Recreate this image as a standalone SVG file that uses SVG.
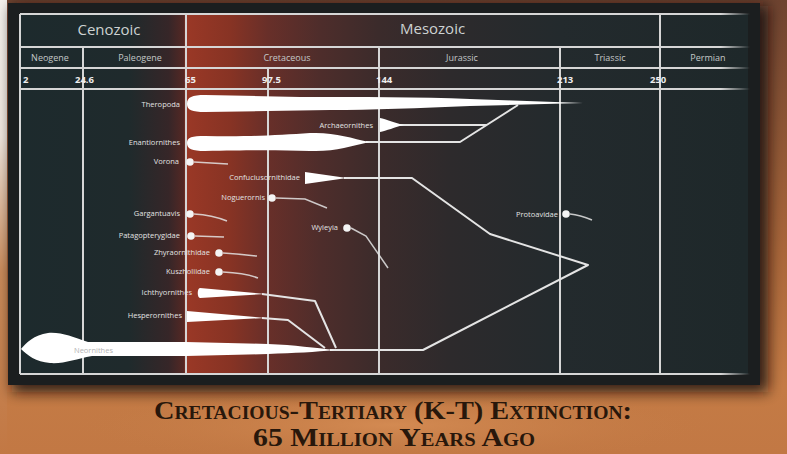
<svg xmlns="http://www.w3.org/2000/svg" width="787" height="454" viewBox="0 0 787 454">
<defs>
  <linearGradient id="orange" x1="0" y1="0" x2="0" y2="1">
    <stop offset="0" stop-color="#6e4330"/>
    <stop offset="0.55" stop-color="#a8663a"/>
    <stop offset="0.85" stop-color="#c47b45"/>
    <stop offset="1" stop-color="#c27844"/>
  </linearGradient>
  <linearGradient id="leftstrip" x1="0" y1="0" x2="0" y2="1">
    <stop offset="0" stop-color="#f4f0ec"/>
    <stop offset="0.3" stop-color="#f0e6de"/>
    <stop offset="0.6" stop-color="#c98a5a"/>
    <stop offset="1" stop-color="#c27844"/>
  </linearGradient>
  <radialGradient id="glow" cx="0.5" cy="0.5" r="0.5">
    <stop offset="0" stop-color="#d38a52"/>
    <stop offset="1" stop-color="#c27a45" stop-opacity="0"/>
  </radialGradient>
  <linearGradient id="panel" gradientUnits="userSpaceOnUse" x1="20" y1="0" x2="745" y2="0">
    <stop offset="0" stop-color="#1d2a2d"/>
    <stop offset="0.15" stop-color="#1f2a2c"/>
    <stop offset="0.205" stop-color="#362628"/>
    <stop offset="0.226" stop-color="#542824"/>
    <stop offset="0.229" stop-color="#9a3826"/>
    <stop offset="0.29" stop-color="#873324"/>
    <stop offset="0.342" stop-color="#682f29"/>
    <stop offset="0.414" stop-color="#4e2d2b"/>
    <stop offset="0.495" stop-color="#3b2b2b"/>
    <stop offset="0.593" stop-color="#2d2a2c"/>
    <stop offset="0.745" stop-color="#232a2d"/>
    <stop offset="1" stop-color="#1e282a"/>
  </linearGradient>
  <linearGradient id="hline" gradientUnits="userSpaceOnUse" x1="20" y1="0" x2="750" y2="0">
    <stop offset="0" stop-color="#d6d6d6"/>
    <stop offset="0.96" stop-color="#d6d6d6"/>
    <stop offset="1" stop-color="#d6d6d6" stop-opacity="0"/>
  </linearGradient>
  <filter id="shadow" x="-10%" y="-10%" width="120%" height="120%">
    <feGaussianBlur stdDeviation="7"/>
  </filter>
  <filter id="soft" x="-5%" y="-20%" width="110%" height="140%">
    <feGaussianBlur stdDeviation="0.5"/>
  </filter>
  <style>
    .grid{stroke:#d6d6d6;stroke-width:2;fill:none}
    .hgrid{stroke:url(#hline);stroke-width:2;fill:none}
    .hd{font-family:"Open Sans","Liberation Sans",sans-serif;font-size:15px;fill:#cdd2d2}
    .pd{font-family:"Open Sans","Liberation Sans",sans-serif;font-size:9px;fill:#c4c8c8;text-anchor:middle}
    .num{font-family:"Open Sans","Liberation Sans",sans-serif;font-size:9.5px;font-weight:bold;fill:#eeeeee}
    .tx{font-family:"Open Sans","Liberation Sans",sans-serif;font-size:7.5px;fill:#e2e2e2;text-anchor:end}
    .shape{fill:#ffffff;filter:url(#soft)}
    .dot{fill:#f4f4f4}
    .link{stroke:#e4e4e4;stroke-width:2;fill:none;stroke-linejoin:round}
    .tail{stroke:#e4e4e4;stroke-width:1.5;fill:none;opacity:0.85}
    .title{font-family:"Liberation Serif",serif;font-weight:bold;font-variant:small-caps;fill:#28170b;font-size:26px;text-anchor:middle}
  </style>
</defs>

<!-- background -->
<rect x="0" y="0" width="787" height="454" fill="url(#orange)"/>
<rect x="0" y="0" width="7" height="454" fill="url(#leftstrip)"/>
<ellipse cx="393" cy="425" rx="330" ry="40" fill="url(#glow)"/>
<rect x="12" y="6" width="756" height="386" fill="#120c08" opacity="0.85" filter="url(#shadow)"/>
<rect x="8" y="3" width="752" height="382" fill="#1b1e1f"/>
<rect x="20" y="14" width="728" height="360" fill="url(#panel)"/>

<!-- grid -->
<g id="grid">
  <line class="hgrid" x1="20" y1="14" x2="750" y2="14"/>
  <line class="hgrid" x1="20" y1="47" x2="750" y2="47"/>
  <line class="hgrid" x1="20" y1="68" x2="750" y2="68"/>
  <line class="hgrid" x1="20" y1="89" x2="750" y2="89"/>
  <line class="hgrid" x1="20" y1="374" x2="750" y2="374"/>
  <line class="grid" x1="20" y1="14" x2="20" y2="374"/>
  <line class="grid" x1="83" y1="47" x2="83" y2="374"/>
  <line class="grid" x1="186" y1="14" x2="186" y2="374"/>
  <line class="grid" x1="268" y1="68" x2="268" y2="374"/>
  <line class="grid" x1="379" y1="47" x2="379" y2="374"/>
  <line class="grid" x1="560" y1="47" x2="560" y2="374"/>
  <line class="grid" x1="660" y1="14" x2="660" y2="374"/>
</g>

<!-- header labels -->
<g id="header">
  <text class="hd" x="109" y="35" text-anchor="middle">Cenozoic</text>
  <text class="hd" x="400" y="34">Mesozoic</text>
  <text class="pd" x="50" y="61">Neogene</text>
  <text class="pd" x="140" y="61">Paleogene</text>
  <text class="pd" x="287" y="61">Cretaceous</text>
  <text class="pd" x="462" y="61">Jurassic</text>
  <text class="pd" x="610" y="61">Triassic</text>
  <text class="pd" x="708" y="61">Permian</text>
  <text class="num" x="23" y="83">2</text>
  <text class="num" x="75" y="83">24.6</text>
  <text class="num" x="185" y="83">65</text>
  <text class="num" x="262" y="83">97.5</text>
  <text class="num" x="376" y="83">144</text>
  <text class="num" x="557" y="83">213</text>
  <text class="num" x="650" y="83">250</text>
</g>

<!-- connectors -->
<g id="connectors">
  <path class="link" d="M366,142 L460,142 L518,105"/>
  <path class="link" d="M400,125 L487,125"/>
  <path class="link" d="M344,178 L412,178 L490,234 L588,265 L423,350 L330,350"/>
  <path class="link" d="M262,294 L315,301 L336,348"/>
  <path class="link" d="M262,318 L288,320 L325,348"/>
  <path class="tail" d="M194,162 L228,164"/>
  <path class="tail" d="M194,214 Q212,215 227,221"/>
  <path class="tail" d="M195,236 L224,237"/>
  <path class="tail" d="M223,253 Q240,254 257,256"/>
  <path class="tail" d="M223,272 Q245,273 258,278"/>
  <path class="tail" d="M276,198 L305,199 L327,208"/>
  <path class="tail" d="M351,228 L366,236 L388,268"/>
  <path class="tail" d="M570,214 Q580,215 592,220"/>
</g>

<!-- nodes -->
<g id="theropoda">
  <path class="shape" d="M187,104 C187,97 192,95 205,95 L300,97 C360,97 420,97 470,99 L583,103 L470,106 C420,108 370,110 330,110 L205,112 C192,112 187,110 187,104 Z"/>
  <text class="tx" x="180" y="107">Theropoda</text>
</g>
<g id="archaeornithes">
  <path class="shape" d="M380,118 C386,119 395,123 404,125 C395,127 386,131 380,132 Z"/>
  <text class="tx" x="373" y="128">Archaeornithes</text>
</g>
<g id="enantiornithes">
  <path class="shape" d="M187,143 C187,137 192,136 205,136 C250,137 280,135 310,133 C335,132 350,138 370,142 C350,146 335,152 310,151 C280,150 250,150 205,151 C192,151 187,149 187,143 Z"/>
  <text class="tx" x="180" y="145">Enantiornithes</text>
</g>
<g id="vorona">
  <circle class="dot" cx="190" cy="162" r="3.8"/>
  <text class="tx" x="179" y="164">Vorona</text>
</g>
<g id="confuciusornithidae">
  <path class="shape" d="M305,172 L305,184 L347,178 Z"/>
  <text class="tx" x="300" y="180">Confuciusornithidae</text>
</g>
<g id="noguerornis">
  <circle class="dot" cx="272" cy="198" r="3.8"/>
  <text class="tx" x="265" y="200">Noguerornis</text>
</g>
<g id="gargantuavis">
  <circle class="dot" cx="190" cy="214" r="3.8"/>
  <text class="tx" x="180" y="216">Gargantuavis</text>
</g>
<g id="wyleyia">
  <circle class="dot" cx="347" cy="228" r="3.8"/>
  <text class="tx" x="338" y="230">Wyleyia</text>
</g>
<g id="protoavidae">
  <circle class="dot" cx="566" cy="214" r="3.8"/>
  <text class="tx" x="558" y="217">Protoavidae</text>
</g>
<g id="patagopterygidae">
  <circle class="dot" cx="191" cy="236" r="3.8"/>
  <text class="tx" x="180" y="238">Patagopterygidae</text>
</g>
<g id="zhyraornithidae">
  <circle class="dot" cx="219" cy="253" r="3.8"/>
  <text class="tx" x="210" y="255">Zhyraornithidae</text>
</g>
<g id="kuszholiidae">
  <circle class="dot" cx="219" cy="272" r="3.8"/>
  <text class="tx" x="210" y="274">Kuszholiidae</text>
</g>
<g id="ichthyornithes">
  <path class="shape" d="M200,288 C197,288 197,298 200,298 L265,294 Z"/>
  <text class="tx" x="192" y="295">Ichthyornithes</text>
</g>
<g id="hesperornithes">
  <path class="shape" d="M187,311 L187,322 L265,318 Z"/>
  <text class="tx" x="182" y="318">Hesperornithes</text>
</g>
<g id="neornithes">
  <path class="shape" d="M21,349 C26,343 34,335 48,333 C62,332 72,337 88,342 L186,342 L268,344 C295,345 315,348 335,350 C315,352 295,353 268,354 L186,356 L92,356 C76,359 64,364 50,363 C36,362 27,355 21,349 Z"/>
  <text class="tx" x="113" y="353" style="fill:#b4b4b4;text-anchor:end">Neornithes</text>
</g>

<!-- title -->
<g id="title">
  <text class="title" x="393" y="419" textLength="478" lengthAdjust="spacingAndGlyphs">Cretacious-Tertiary (K-T) Extinction:</text>
  <text class="title" x="394" y="446" textLength="282" lengthAdjust="spacingAndGlyphs">65 Million Years Ago</text>
</g>
</svg>
